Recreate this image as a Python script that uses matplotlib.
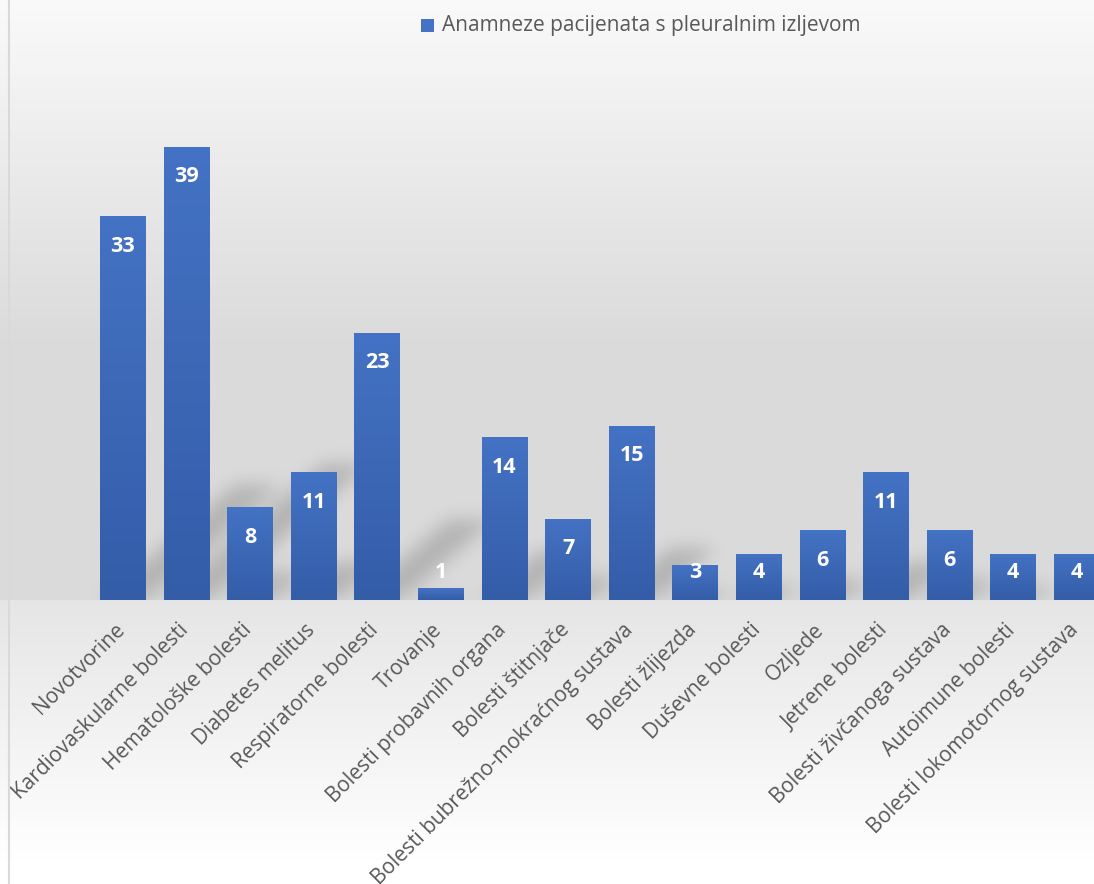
import numpy as np
import matplotlib
matplotlib.use('Agg')
import matplotlib.pyplot as plt
from matplotlib.lines import Line2D
from matplotlib.patches import Rectangle
from matplotlib.transforms import ScaledTranslation

categories = ['Novotvorine', 'Kardiovaskularne bolesti', 'Hematološke bolesti', 'Diabetes melitus',
              'Respiratorne bolesti', 'Trovanje', 'Bolesti probavnih organa', 'Bolesti štitnjače',
              'Bolesti bubrežno-mokraćnog sustava', 'Bolesti žlijezda', 'Duševne bolesti', 'Ozljede',
              'Jetrene bolesti', 'Bolesti živčanoga sustava', 'Autoimune bolesti',
              'Bolesti lokomotornog sustava']
values = [33, 39, 8, 11, 23, 1, 14, 7, 15, 3, 4, 6, 11, 6, 4, 4]
series_name = 'Anamneze pacijenata s pleuralnim izljevom'

W, H = 1094, 884
plt.rcParams['font.family'] = ['Open Sans', 'DejaVu Sans']
fig = plt.figure(figsize=(W / 100, H / 100), dpi=100)

# background gradient (whole chart)
bg = fig.add_axes([0, 0, 1, 1], zorder=-10)
rows = np.arange(H)
shade = np.where(rows < 350, 0.98 - (0.98 - 0.855) * rows / 350, 0.855)
below = rows >= 600
shade[below] = np.clip(0.90 + (1.0 - 0.90) * (rows[below] - 600) / 260, 0, 1)
bg.imshow(np.dstack([shade[:, None]] * 3), extent=(0, 1, 0, 1), aspect='auto', transform=bg.transAxes)
bg.set_axis_off()
fig.add_artist(Line2D([9 / W, 9 / W], [0, 1], color='#d9d9d9', lw=1.5))

# plot area
left_px, base_px, top_px = 91, 600, 77
ymax = 45
ax = fig.add_axes([left_px / W, (H - base_px) / H, (W - left_px) / W, (base_px - top_px) / H])
ax.patch.set_alpha(0)
x = np.arange(len(values))
xr = 15.27
for s in ax.spines.values():
    s.set_visible(False)
ax.set_yticks([])
bw = 0.72

# blurred perspective shadows
gw, gh = W - left_px, base_px - top_px
ppx = gw / (xr + 0.5)
ppy = gh / ymax
yy = np.arange(gh)[:, None] + 0.5
xx = np.arange(gw)[None, :] + 0.5
mask = np.zeros((gh, gw))
slope, scale = 0.85, 0.3
for xi, v in zip(x, values):
    hpx = v * ppy * scale
    x0 = (xi - bw / 2 + 0.5) * ppx
    x1 = (xi + bw / 2 + 0.5) * ppx
    sh = yy / slope
    m = (yy <= hpx) & (xx >= x0 + sh) & (xx <= x1 + sh)
    mask = np.maximum(mask, m.astype(float))
sig = 9
k = np.exp(-0.5 * (np.arange(-3 * sig, 3 * sig + 1) / sig) ** 2)
k /= k.sum()
mask = np.apply_along_axis(lambda r: np.convolve(r, k, mode='same'), 1, mask)
mask = np.apply_along_axis(lambda c: np.convolve(c, k, mode='same'), 0, mask)
rgba = np.zeros((gh, gw, 4))
rgba[..., 3] = mask * 0.18
ax.imshow(rgba, extent=(-0.5, xr, 0, ymax), origin='lower', aspect='auto', zorder=1)

# gradient bars
grad = np.linspace(0, 1, 100)[:, None]
top_c = np.array([0x44, 0x72, 0xc4]) / 255
bot_c = np.array([0x34, 0x5d, 0xa8]) / 255
bar_img = (bot_c[None, None, :] * (1 - grad[..., None]) + top_c[None, None, :] * grad[..., None])
for xi, v in zip(x, values):
    rect = Rectangle((xi - bw / 2, 0), bw, v, facecolor='none', edgecolor='none')
    ax.add_patch(rect)
    im = ax.imshow(bar_img, extent=(xi - bw / 2, xi + bw / 2, 0, v), origin='lower',
                   aspect='auto', zorder=2)
    im.set_clip_path(rect)
    ly = max(v - 30 / ppy, 28 / ppy)
    ax.text(xi, ly, str(v), ha='center', va='center', color='white',
            fontsize=15.5, fontweight='bold', zorder=3)
ax.set_xlim(-0.5, xr)
ax.set_ylim(0, ymax)

ax.set_xticks(x)
ax.set_xticklabels(categories, rotation=45, ha='right', rotation_mode='anchor',
                   fontsize=15, color='#595959')
ax.tick_params(axis='x', length=0, pad=14)
shift = ScaledTranslation(-9 / 100, 0, fig.dpi_scale_trans)
for lab in ax.get_xticklabels():
    lab.set_transform(lab.get_transform() + shift)

# legend
fig.add_artist(Rectangle((421 / W, 1 - 32 / H), 13 / W, 13 / H, facecolor='#4472c4',
                         edgecolor='none', transform=fig.transFigure))
fig.text(442 / W, 1 - 26 / H, series_name, ha='left', va='center', fontsize=15, color='#595959')

fig.savefig('out.png', dpi=100)
